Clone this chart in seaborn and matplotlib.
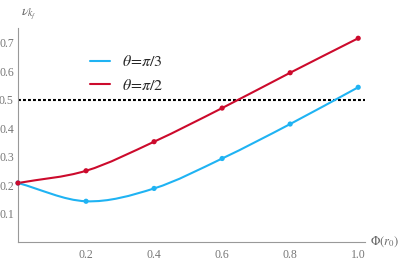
import numpy as np
import pandas as pd
import seaborn as sns
import matplotlib
matplotlib.use("Agg")
import matplotlib.pyplot as plt
from matplotlib.path import Path
from matplotlib.patches import PathPatch
from matplotlib.lines import Line2D
from matplotlib.ticker import MultipleLocator

# data
phi = [0.0, 0.2, 0.4, 0.6, 0.8, 1.0]
nu_pi3 = [0.207, 0.143, 0.188, 0.293, 0.414, 0.543]
nu_pi2 = [0.207, 0.250, 0.352, 0.470, 0.594, 0.715]
labels = [r"$\theta\!=\!\pi/3$", r"$\theta\!=\!\pi/2$"]
colors = ["#1fb3f3", "#cc0a2c"]
threshold = 0.5

sns.set_style("white")
plt.rcParams["font.family"] = ["Liberation Serif", "DejaVu Serif"]
plt.rcParams["mathtext.fontset"] = "stix"

df = pd.DataFrame({
    "phi": phi * 2,
    "nu": nu_pi3 + nu_pi2,
    "theta": [labels[0]] * len(phi) + [labels[1]] * len(phi),
})

fig = plt.figure(figsize=(4, 2.6), dpi=100)
ax = fig.add_axes([0.045, 0.0692, 0.8675, 0.822])


def smooth_path(xs, ys):
    # cubic Bezier through the points (Catmull-Rom style tangents)
    xs = np.asarray(xs, float)
    ys = np.asarray(ys, float)
    n = len(xs)
    m = np.zeros(n)
    m[0] = (ys[1] - ys[0]) / (xs[1] - xs[0])
    m[-1] = (ys[-1] - ys[-2]) / (xs[-1] - xs[-2])
    for i in range(1, n - 1):
        m[i] = (ys[i + 1] - ys[i - 1]) / (xs[i + 1] - xs[i - 1])
    verts = [(xs[0], ys[0])]
    codes = [Path.MOVETO]
    for i in range(n - 1):
        h = xs[i + 1] - xs[i]
        verts += [(xs[i] + h / 3, ys[i] + m[i] * h / 3),
                  (xs[i + 1] - h / 3, ys[i + 1] - m[i + 1] * h / 3),
                  (xs[i + 1], ys[i + 1])]
        codes += [Path.CURVE4] * 3
    return Path(verts, codes)


for ys, c in zip([nu_pi3, nu_pi2], colors):
    ax.add_patch(PathPatch(smooth_path(phi, ys), fill=False, edgecolor=c,
                           lw=1.5, transform=ax.transData, zorder=3))

sns.scatterplot(data=df, x="phi", y="nu", hue="theta", palette=colors,
                s=14, edgecolor="none", legend=False, ax=ax, zorder=4,
                clip_on=False)

ax.axhline(threshold, color="black", lw=1.5, ls=(0, (1.4, 1.0)), zorder=2)

ax.set_xlim(0, 1.02)
ax.set_ylim(0, 0.75)
ax.set_xlabel("")
ax.set_ylabel("")

ax.xaxis.set_minor_locator(MultipleLocator(0.05))
ax.yaxis.set_minor_locator(MultipleLocator(0.02))
ax.set_xticks([0.2, 0.4, 0.6, 0.8, 1.0])
ax.set_xticklabels(["0.2", "0.4", "0.6", "0.8", "1.0"])
ax.set_yticks([0.1, 0.2, 0.3, 0.4, 0.5, 0.6, 0.7])
ax.set_yticklabels(["0.1", "0.2", "0.3", "0.4", "0.5", "0.6", "0.7"])

gray = "#999999"
ax.tick_params(which="both", direction="in", colors=gray, labelsize=8.5,
               labelcolor="#777777")
ax.tick_params(which="major", length=4, width=0.8)
ax.tick_params(which="minor", length=2, width=0.6)
ax.tick_params(axis="x", which="major", pad=5)
ax.tick_params(axis="y", which="major", pad=3)

for side in ["top", "right"]:
    ax.spines[side].set_visible(False)
for side in ["left", "bottom"]:
    ax.spines[side].set_color(gray)
    ax.spines[side].set_linewidth(0.8)

ax.text(0.03, 1.07, r"$\nu_{k_f}$", transform=ax.transAxes, ha="center",
        va="center", fontsize=10, color="#666666")
ax.text(1.013, 0.0, r"$\Phi(r_0)$", transform=ax.transAxes, ha="left",
        va="center", fontsize=9, color="#666666")

handles = [Line2D([], [], color=c, lw=1.5) for c in colors]
ax.legend(handles, labels, loc="upper left", bbox_to_anchor=(0.165, 0.945),
          frameon=False, fontsize=11.5, handlelength=1.3, handletextpad=0.7,
          labelspacing=0.45)

fig.savefig("out.png", dpi=100)
